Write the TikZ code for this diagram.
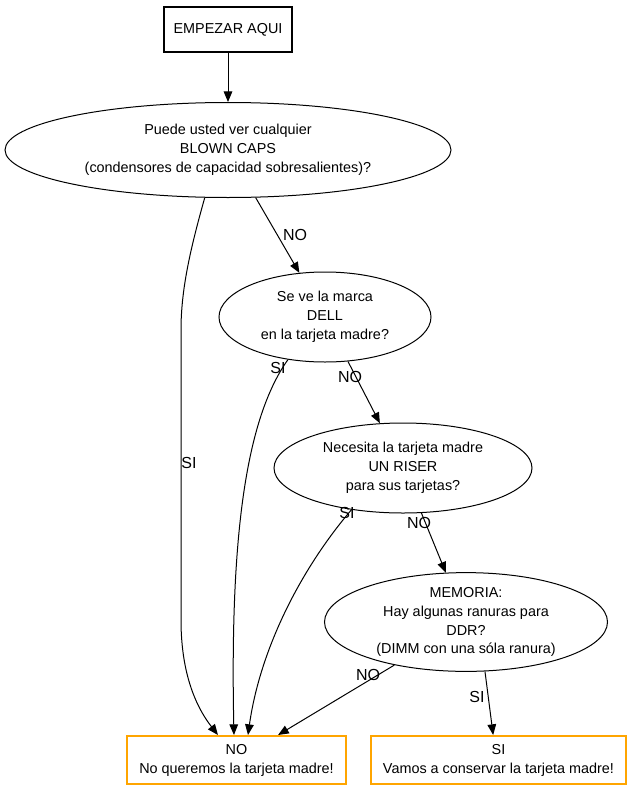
\documentclass[tikz,border=0pt]{standalone}
\usepackage{fontspec}
\setmainfont{Liberation Sans}
\usetikzlibrary{arrows.meta,shapes.geometric}
\definecolor{boxorange}{RGB}{255,165,0}

\begin{document}
\begin{tikzpicture}[x=0.75pt,y=-0.75pt,
  txt/.style={font=\fontsize{10.8}{14.2}\selectfont, align=center, inner sep=0pt},
  startbox/.style={txt, draw, line width=1.5pt, minimum width=96pt, minimum height=33.75pt},
  question/.style={txt, draw, ellipse, line width=0.75pt},
  endbox/.style={txt, draw=boxorange, line width=1.5pt, minimum height=36pt},
  lbl/.style={font=\fontsize{12}{14}\selectfont, inner sep=0pt},
  arr/.style={line width=0.75pt, -{Triangle[length=8pt,width=6.5pt]}}]

\useasboundingbox (0,0) rectangle (632,789);

\node[startbox] (start) at (228, 29.5) {EMPEZAR AQUI};
\node[question, minimum width=334.5pt, minimum height=71.25pt] (blown) at (228, 150) {Puede usted ver cualquier\\BLOWN CAPS\\(condensores de capacidad sobresalientes)?};
\node[question, minimum width=159pt, minimum height=67.5pt] (dell) at (325, 317) {Se ve la marca\\DELL\\en la tarjeta madre?};
\node[question, minimum width=193.5pt, minimum height=67.5pt] (riser) at (403, 468) {Necesita la tarjeta madre\\UN RISER\\para sus tarjetas?};
\node[question, minimum width=212.25pt, minimum height=70.5pt] (ddr) at (466, 622) {MEMORIA:\\Hay algunas ranuras para\\DDR?\\(DIMM con una sóla ranura)};
\node[endbox, minimum width=164.25pt] (no) at (236.5, 760) {NO\\No queremos la tarjeta madre!};
\node[endbox, minimum width=191.25pt] (si) at (498.5, 760) {SI\\Vamos a conservar la tarjeta madre!};

\draw[arr] (start) -- (blown);
\draw[arr] (blown.244) .. controls (190,250) and (181,290) .. (181,330) -- (181,620) .. controls (181,680) and (200,712) .. ([xshift=-13.9pt]no.north);
\draw[arr] (blown) -- (dell);
\draw[arr] (dell.229) .. controls (245,420) and (230,540) .. ([xshift=-1.9pt]no.north);
\draw[arr] (dell) -- (riser);
\draw[arr] (riser.219) .. controls (300,570) and (260,650) .. ([xshift=8.6pt]no.north);
\draw[arr] (riser) -- (ddr);
\draw[arr] (ddr) -- (no);
\draw[arr] (ddr.-69) -- ([xshift=-4pt]si.north);

\node[lbl] (l1) at (189, 463) {SI};
\node[lbl] (l2) at (295, 235) {NO};
\node[lbl] (l3) at (278, 368) {SI};
\node[lbl] (l4) at (350, 377) {NO};
\node[lbl] (l5) at (347, 513) {SI};
\node[lbl] (l6) at (419, 523) {NO};
\node[lbl] (l7) at (368, 675) {NO};
\node[lbl] (l8) at (477, 697) {SI};
\end{tikzpicture}
\end{document}
